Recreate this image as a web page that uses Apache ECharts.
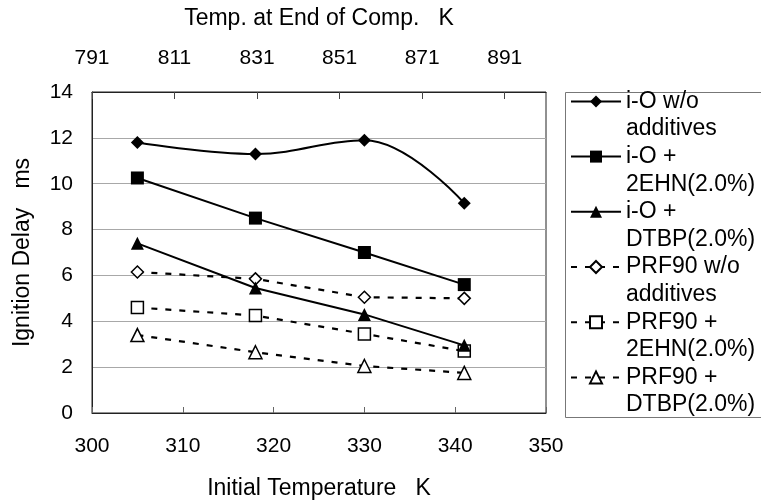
<!DOCTYPE html>
<html>
<head>
<meta charset="utf-8">
<script src="https://cdn.jsdelivr.net/npm/echarts@6/dist/echarts.min.js"></script>
<style>
html, body { margin: 0; padding: 0; background: #fff; }
#chart_01 { width: 761px; height: 502px; }
</style>
</head>
<body>
<div id="chart_01"></div>
<script>
var initTemp = [305, 318, 330, 341];
var topTicks = [791, 811, 831, 851, 871, 891];
var names = [
    'i-O w/o\nadditives',
    'i-O +\n2EHN(2.0%)',
    'i-O +\nDTBP(2.0%)',
    'PRF90 w/o\nadditives',
    'PRF90 +\n2EHN(2.0%)',
    'PRF90 +\nDTBP(2.0%)'
];
var ioPlain = [11.8, 11.3, 11.9, 9.15];
var io2EHN = [10.25, 8.5, 7.0, 5.6];
var ioDTBP = [7.4, 5.45, 4.3, 2.95];
var prfPlain = [6.15, 5.85, 5.05, 5.0];
var prf2EHN = [4.6, 4.25, 3.45, 2.7];
var prfDTBP = [3.4, 2.65, 2.05, 1.75];

var chart1;
var font = 'Liberation Sans';

function pairs(ys) {
    var out = [];
    for (var i = 0; i < initTemp.length; i++) {
        out.push([initTemp[i], ys[i]]);
    }
    return out;
}

function solid(name, ys, symbol, size, smooth) {
    return {
        name: name,
        type: 'line',
        data: pairs(ys),
        xAxisIndex: 0,
        smooth: smooth || false,
        symbol: symbol,
        symbolSize: size,
        lineStyle: { color: '#000', width: 2, type: 'solid' },
        itemStyle: { color: '#000', borderColor: '#000', borderWidth: 0 },
        z: 3
    };
}

function dashed(name, ys, symbol, size) {
    return {
        name: name,
        type: 'line',
        data: pairs(ys),
        xAxisIndex: 0,
        symbol: symbol,
        symbolSize: size,
        lineStyle: { color: '#000', width: 2.2, type: [6, 8] },
        itemStyle: { color: '#fff', borderColor: '#000', borderWidth: 1.5 },
        z: 2
    };
}

function setChart1() {
    var dom = document.getElementById('chart_01');
    chart1 = echarts.init(dom, null, { renderer: 'canvas' });
    var option = {
        animation: false,
        backgroundColor: '#fff',
        textStyle: { fontFamily: font, color: '#000' },
        grid: {
            show: true,
            left: 92,
            right: 215,
            top: 92,
            bottom: 89,
            outerBoundsMode: 'none',
            containLabel: false,
            borderColor: '#222',
            borderWidth: 1
        },
        legend: {
            orient: 'vertical',
            left: 570,
            top: 60,
            padding: 0,
            itemWidth: 50,
            itemHeight: 15,
            itemGap: -27.6,
            selectedMode: false,
            // blank first line keeps the marker level with the name's first line
            formatter: function (name) {
                return ' \n' + name;
            },
            textStyle: {
                fontFamily: font,
                fontSize: 23,
                color: '#000',
                lineHeight: 27.6
            },
            data: names
        },
        graphic: [{
            type: 'rect',
            left: 563,
            top: 90,
            shape: { width: 210, height: 325 },
            style: { fill: 'none', stroke: '#777', lineWidth: 1 },
            silent: true
        }],
        xAxis: [{
            type: 'value',
            position: 'bottom',
            min: 300,
            max: 350,
            interval: 10,
            name: 'Initial Temperature   K',
            nameLocation: 'middle',
            nameGap: 64,
            nameTextStyle: { fontFamily: font, fontSize: 23, color: '#000' },
            axisLine: { show: true, lineStyle: { color: '#222', width: 1 } },
            axisTick: { show: true, inside: true, length: 6, lineStyle: { color: '#666' } },
            axisLabel: { fontFamily: font, fontSize: 21, color: '#000', margin: 23 },
            splitLine: { show: false }
        }, {
            type: 'value',
            position: 'top',
            min: 791,
            max: 901,
            interval: 20,
            name: 'Temp. at End of Comp.   K',
            nameLocation: 'middle',
            nameGap: 62,
            nameTextStyle: { fontFamily: font, fontSize: 23, color: '#000' },
            axisLine: { show: true, lineStyle: { color: '#222', width: 1 } },
            axisTick: { show: true, inside: true, length: 7, lineStyle: { color: '#444' } },
            axisLabel: {
                fontFamily: font,
                fontSize: 21,
                color: '#000',
                margin: 23,
                showMaxLabel: false,
                formatter: function (v) {
                    return topTicks.indexOf(v) >= 0 ? String(v) : '';
                }
            },
            splitLine: { show: false }
        }],
        yAxis: {
            type: 'value',
            min: 0,
            max: 14,
            interval: 2,
            name: 'Ignition Delay   ms',
            nameLocation: 'middle',
            nameGap: 58,
            nameTextStyle: { fontFamily: font, fontSize: 23, color: '#000' },
            axisLine: { show: true, lineStyle: { color: '#222', width: 1 } },
            axisTick: { show: false },
            axisLabel: { fontFamily: font, fontSize: 21, color: '#000', margin: 19 },
            splitLine: { show: true, lineStyle: { color: '#a8a8a8', width: 1 } }
        },
        series: [
            solid(names[0], ioPlain, 'diamond', 13, 0.4),
            solid(names[1], io2EHN, 'rect', 13),
            solid(names[2], ioDTBP, 'triangle', 13),
            dashed(names[3], prfPlain, 'diamond', 12),
            dashed(names[4], prf2EHN, 'rect', 12),
            dashed(names[5], prfDTBP, 'triangle', 13)
        ]
    };
    chart1.setOption(option, true);
}

window.onresize = function () {
    chart1 && chart1.resize();
};
setChart1();
</script>
</body>
</html>
